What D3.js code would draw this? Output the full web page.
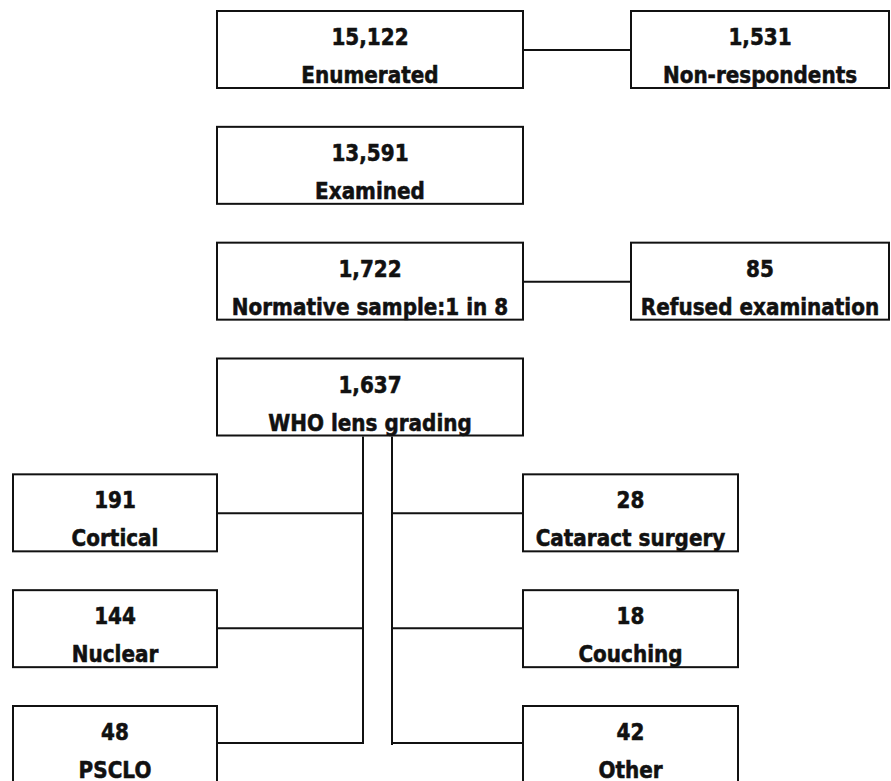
<!DOCTYPE html>
<html>
<head>
<meta charset="utf-8">
<script src="https://cdn.jsdelivr.net/npm/d3@7"></script>
<style>
  html, body { margin: 0; padding: 0; background: #fff; }
  svg { display: block; }
  text { font-family: "DejaVu Sans", Verdana, sans-serif; font-weight: bold; fill: #111; stroke: #111; stroke-width: 0.5px; }
</style>
</head>
<body>
<svg id="chart" width="891" height="781"></svg>
<script>
// ---- data ----
const mainValues = [15122, 13591, 1722, 1637];
const mainLabels = ["Enumerated", "Examined", "Normative sample:1 in 8", "WHO lens grading"];
const mainRows = [0, 1, 2, 3];

const sideValues = [1531, 85];
const sideLabels = ["Non-respondents", "Refused examination"];
const sideRows = [0, 2];

const leftValues = [191, 144, 48];
const leftLabels = ["Cortical", "Nuclear", "PSCLO"];
const leftRows = [4, 5, 6];

const rightValues = [28, 18, 42];
const rightLabels = ["Cataract surgery", "Couching", "Other"];
const rightRows = [4, 5, 6];

// ---- layout ----
const svg = d3.select("#chart");
const fmt = d3.format(",");
const rowY = d3.scaleLinear().domain([0, 6]).range([11, 706]);
const boxH = 77;
const stroke = "#111";

const cols = {
  main:  { x0: 217, x1: 523 },
  side:  { x0: 631, x1: 889 },
  left:  { x0: 13,  x1: 217 },
  right: { x0: 523, x1: 738 }
};
const trunkL = 363, trunkR = 392;

function nodes(values, labels, rows, col) {
  return values.map((v, i) => ({ value: v, label: labels[i], row: rows[i], col }));
}
const allNodes = [
  ...nodes(mainValues, mainLabels, mainRows, "main"),
  ...nodes(sideValues, sideLabels, sideRows, "side"),
  ...nodes(leftValues, leftLabels, leftRows, "left"),
  ...nodes(rightValues, rightLabels, rightRows, "right")
];

const lines = svg.append("g").attr("stroke", stroke).attr("stroke-width", 2).attr("fill", "none");

sideRows.forEach(r => {
  const y = rowY(r) + 39;
  lines.append("line").attr("x1", cols.main.x1).attr("x2", cols.side.x0).attr("y1", y).attr("y2", y);
});

const whoBottom = rowY(3) + boxH + 1;
const lastY = rowY(d3.max(leftRows)) + 37;
lines.append("line").attr("x1", trunkL).attr("x2", trunkL).attr("y1", whoBottom).attr("y2", lastY + 1);
lines.append("line").attr("x1", trunkR).attr("x2", trunkR).attr("y1", whoBottom).attr("y2", lastY + 2);

leftRows.forEach((r, i) => {
  const y = rowY(r) + 39 - i;
  lines.append("line").attr("x1", cols.left.x1).attr("x2", trunkL + 1).attr("y1", y).attr("y2", y);
});
rightRows.forEach((r, i) => {
  const y = rowY(r) + 39 - i;
  lines.append("line").attr("x1", trunkR - 1).attr("x2", cols.right.x0).attr("y1", y).attr("y2", y);
});

const g = svg.append("g").selectAll("g").data(allNodes).join("g")
  .attr("transform", d => `translate(${cols[d.col].x0},${rowY(d.row)})`);

g.append("rect")
  .attr("width", d => cols[d.col].x1 - cols[d.col].x0)
  .attr("height", boxH)
  .attr("fill", "#fff")
  .attr("stroke", stroke)
  .attr("stroke-width", 2);

g.append("text")
  .attr("transform", d => `translate(${(cols[d.col].x1 - cols[d.col].x0) / 2},34) scale(1,1.15)`)
  .attr("text-anchor", "middle")
  .attr("font-size", 20)
  .text(d => fmt(d.value));

g.append("text")
  .attr("transform", d => `translate(${(cols[d.col].x1 - cols[d.col].x0) / 2},72) scale(1,1.15)`)
  .attr("text-anchor", "middle")
  .attr("font-size", 20)
  .text(d => d.label);
</script>
</body>
</html>
